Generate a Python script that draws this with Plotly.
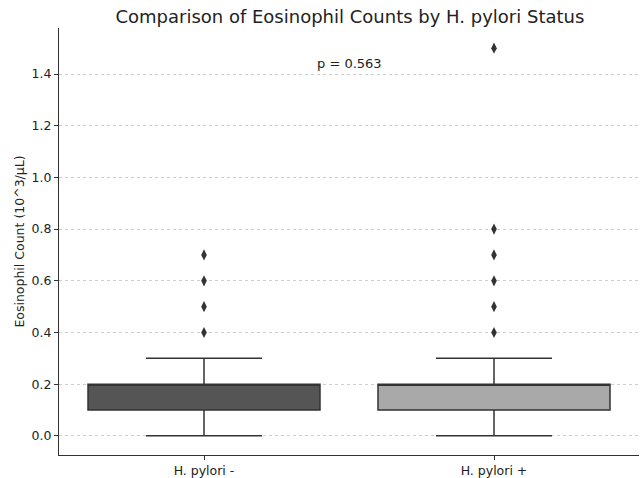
import plotly.graph_objects as go

categories = ["H. pylori -", "H. pylori +"]
q1 = [0.1, 0.1]
median = [0.2, 0.2]
q3 = [0.2, 0.2]
lower = [0.0, 0.0]
upper = [0.3, 0.3]
outliers_neg = [0.4, 0.5, 0.6, 0.7]
outliers_pos = [0.4, 0.5, 0.6, 0.7, 0.8, 1.5]
box_colors = ["#555555", "#a9a9a9"]
p_text = "p = 0.563"

fig = go.Figure()
for i, cat in enumerate(categories):
    fig.add_trace(go.Box(
        x=[cat], q1=[q1[i]], median=[median[i]], q3=[q3[i]],
        lowerfence=[lower[i]], upperfence=[upper[i]],
        fillcolor=box_colors[i], line=dict(color="#333333", width=1.5),
        width=0.8, whiskerwidth=0.5, boxpoints=False, showlegend=False,
        hoverinfo="skip",
    ))
for cat, vals in zip(categories, [outliers_neg, outliers_pos]):
    fig.add_trace(go.Scatter(
        x=[cat] * len(vals), y=vals, mode="markers",
        marker=dict(symbol="diamond-tall", size=8, color="#333333"),
        showlegend=False,
    ))

fig.add_annotation(x=0.5, y=1.44, xref="x", yref="y", text=p_text, showarrow=False,
                   font=dict(size=13, color="#222222"))

fig.update_layout(
    width=642, height=478,
    margin=dict(l=59, r=3, t=28, b=23),
    plot_bgcolor="white", paper_bgcolor="white",
    font=dict(family="DejaVu Sans", size=12, color="#222222"),
    title=dict(text="Comparison of Eosinophil Counts by H. pylori Status",
               x=0.545, xanchor="center", y=0.978, yanchor="top",
               font=dict(size=18, color="#222222")),
    xaxis=dict(type="category", range=[-0.5, 1.5], showgrid=False, automargin=False,
               showline=True, linecolor="#333333", linewidth=1.2,
               ticks="outside", ticklen=4, tickcolor="#333333",
               tickfont=dict(size=12.5)),
    yaxis=dict(range=[-0.074, 1.578], tickvals=[0, 0.2, 0.4, 0.6, 0.8, 1.0, 1.2, 1.4],
               ticktext=["0.0", "0.2", "0.4", "0.6", "0.8", "1.0", "1.2", "1.4"],
               automargin=False,
               showgrid=True, gridcolor="#cccccc", griddash="dot", gridwidth=1,
               zeroline=False, showline=True, linecolor="#333333", linewidth=1.2,
               ticks="outside", ticklen=4, tickcolor="#333333",
               tickfont=dict(size=12.5),
               title=dict(text="Eosinophil Count (10^3/μL)", font=dict(size=12.5), standoff=4)),
)

fig.write_html("out.html", config={"displayModeBar": False},
               post_script="document.body.style.margin='0';")
